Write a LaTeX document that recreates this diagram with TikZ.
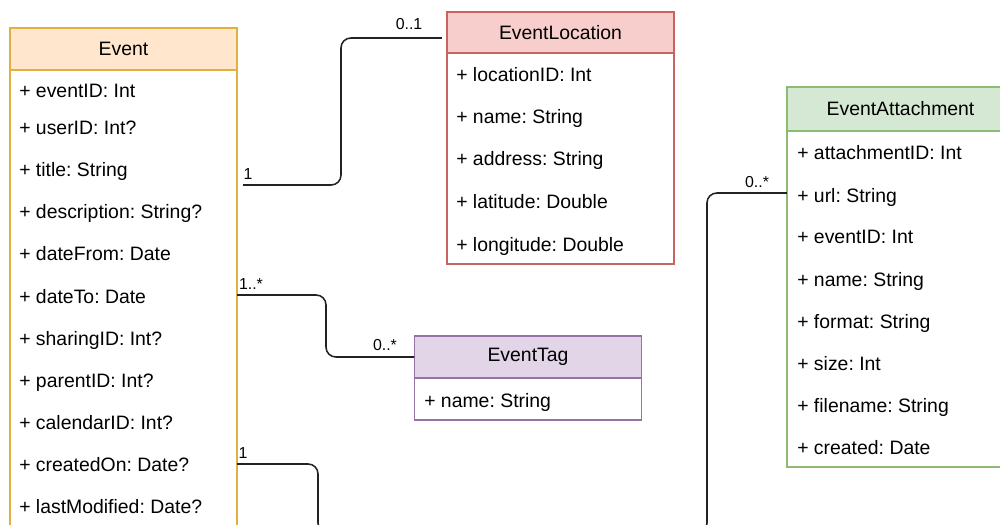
\documentclass[tikz,border=0pt]{standalone}
\usepackage{fontspec}
\setmainfont{Liberation Sans}
\usetikzlibrary{positioning}
\definecolor{evFill}{HTML}{FFE6CC}
\definecolor{evDraw}{HTML}{E0B040}
\definecolor{locFill}{HTML}{F8CECC}
\definecolor{locDraw}{HTML}{C86460}
\definecolor{tagFill}{HTML}{E1D5E7}
\definecolor{tagDraw}{HTML}{9673A6}
\definecolor{attFill}{HTML}{D5E8D4}
\definecolor{attDraw}{HTML}{8CBC74}
\definecolor{lineGray}{HTML}{222222}

\begin{document}
\frenchspacing
\begin{tikzpicture}[
    x=0.025cm, y=-0.025cm,
    every node/.style={font=\fontsize{13.8}{16}\selectfont},
    classhead/.style 2 args={rectangle,draw=#1,fill=#2,line width=1pt,
                  minimum width=5.675cm,minimum height=1.05cm,
                  inner sep=0pt,outer sep=0pt},
    classbody/.style={rectangle,draw=#1,fill=white,line width=1pt,
                  minimum width=5.675cm,inner sep=0pt,outer sep=0pt},
    field/.style={anchor=base west,inner sep=0pt},
    mult/.style={font=\fontsize{11.3}{13}\selectfont,inner sep=0pt},
    assoc/.style={draw=lineGray,line width=1.1pt,rounded corners=7pt}
  ]
  \useasboundingbox (0,0) rectangle (1000,525);
  \fill[white] (0,0) rectangle (1000,525);
  \clip (0,0) rectangle (1000,525);

  %% Event
  \node[classhead={evDraw}{evFill}] (evhead) at (123.5,49) {Event};
  \node[classbody=evDraw,minimum height=12.25cm,below=0pt of evhead] (evbody) {};
  \foreach \y/\t [count=\i] in {91/eventID: Int, 128/userID: Int?,
      170/title: String, 212/description: String?, 254/dateFrom: Date,
      296/dateTo: Date, 338/sharingID: Int?, 380/parentID: Int?,
      422/calendarID: Int?, 464/createdOn: Date?, 506/lastModified: Date?}
    \node[field] (evf\i) at (19,\y+7) {+ \t};

  %% EventLocation
  \node[classhead={locDraw}{locFill},minimum height=1.025cm] (lochead) at (560.5,32.5) {EventLocation};
  \node[classbody=locDraw,minimum height=5.275cm,below=0pt of lochead] (locbody) {};
  \foreach \y/\t [count=\i] in {75/locationID: Int, 117/name: String,
      159/address: String, 202/latitude: Double, 244/longitude: Double}
    \node[field] (locf\i) at (456,\y+7) {+ \t};

  %% EventTag
  \node[classhead={tagDraw}{tagFill}] (taghead) at (528,357) {EventTag};
  \node[classbody=tagDraw,minimum height=1.05cm,below=0pt of taghead] (tagbody) {};
  \node[field] (tagf1) at (424,407) {+ name: String};

  %% EventAttachment
  \node[classhead={attDraw}{attFill},minimum height=1.1cm] (atthead) at (900.5,109) {EventAttachment};
  \node[classbody=attDraw,minimum height=8.4cm,below=0pt of atthead] (attbody) {};
  \foreach \y/\t [count=\i] in {153/attachmentID: Int, 195/url: String,
      237/eventID: Int, 279/name: String, 321/format: String,
      363/size: Int, 405/filename: String, 447/created: Date}
    \node[field] (attf\i) at (797,\y+7) {+ \t};

  %% associations
  \draw[assoc] ([xshift=4.3pt]evbody.east |- 0,185) -- (341,185) -- (341,38)
    -- ([xshift=-3.6pt]lochead.west |- 0,38);
  \draw[assoc] (evbody.east |- 0,295) -- (326,295) -- (326,357) -- (taghead.west);
  \draw[assoc] (evbody.east |- 0,464) -- (318,464) -- (318,533) -- (707,533)
    -- (707,193) -- (attbody.west |- 0,193);

  %% multiplicities
  \node[mult] (m1) at (248,174) {1};
  \node[mult] (m2) at (409,24) {0..1};
  \node[mult] (m3) at (251,284) {1..*};
  \node[mult] (m4) at (385,345) {0..*};
  \node[mult] (m5) at (243,453) {1};
  \node[mult] (m6) at (757,182) {0..*};
\end{tikzpicture}
\end{document}
